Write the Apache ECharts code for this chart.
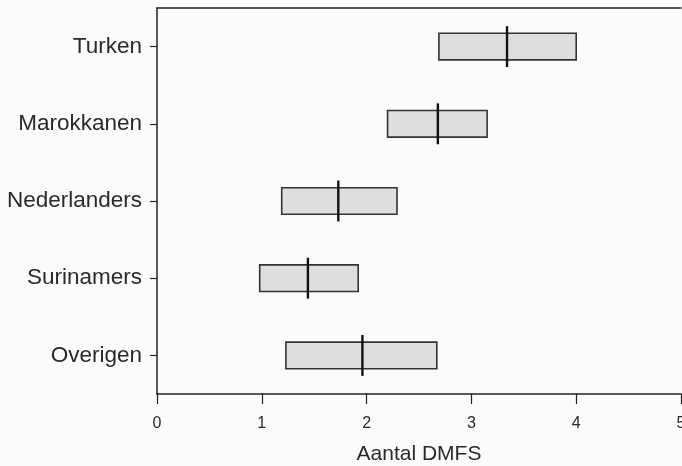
<!DOCTYPE html>
<html>
<head>
<meta charset="utf-8">
<script src="https://cdn.jsdelivr.net/npm/echarts@6/dist/echarts.min.js"></script>
<style>
html,body{margin:0;padding:0;background:#fbfbf9;}
#chart{width:682px;height:466px;}
</style>
</head>
<body>
<div id="chart"></div>
<script>
const categories = ['Turken', 'Marokkanen', 'Nederlanders', 'Surinamers', 'Overigen'];
const lowValues = [2.69, 2.20, 1.19, 0.98, 1.23];
const highValues = [4.00, 3.15, 2.29, 1.92, 2.67];
const medianValues = [3.34, 2.68, 1.73, 1.44, 1.96];
const xTicks = [0, 1, 2, 3, 4, 5];
const xAxisTitle = 'Aantal DMFS';

const seriesData = categories.map((c, i) => [i, lowValues[i], highValues[i], medianValues[i]]);

const chart = echarts.init(document.getElementById('chart'), null, {renderer: 'canvas'});
const font = 'Liberation Sans, Helvetica, Arial, sans-serif';

chart.setOption({
  backgroundColor: '#fbfbf9',
  animation: false,
  grid: {left: 157, right: 1, top: 8, bottom: 72, containLabel: false, outerBoundsMode: 'none'},
  xAxis: [{
    type: 'value',
    min: xTicks[0],
    max: xTicks[xTicks.length - 1],
    interval: 1,
    position: 'bottom',
    axisLine: {show: true, lineStyle: {color: '#222', width: 1.5}},
    axisTick: {show: true, inside: false, length: 10, lineStyle: {color: '#222', width: 1.2}},
    axisLabel: {show: true, margin: 22, fontSize: 16, color: '#2a2a2a', fontFamily: font,
      formatter: v => xTicks.includes(v) ? String(v) : ''},
    splitLine: {show: false},
    name: xAxisTitle,
    nameLocation: 'middle',
    nameGap: 50,
    nameTextStyle: {fontSize: 21, color: '#2a2a2a', fontFamily: font}
  }, {
    type: 'value',
    min: xTicks[0],
    max: xTicks[xTicks.length - 1],
    position: 'top',
    axisLine: {show: true, lineStyle: {color: '#222', width: 1.5}},
    axisTick: {show: false},
    axisLabel: {show: false},
    splitLine: {show: false}
  }],
  yAxis: {
    type: 'category',
    data: categories,
    inverse: true,
    axisLine: {show: true, lineStyle: {color: '#222', width: 1.5}},
    axisTick: {show: true, alignWithLabel: true, length: 7, lineStyle: {color: '#222', width: 1.2}},
    axisLabel: {margin: 15, fontSize: 22.5, color: '#2a2a2a', fontFamily: font},
    splitLine: {show: false}
  },
  series: [{
    type: 'custom',
    xAxisIndex: 0,
    data: seriesData,
    encode: {x: [1, 2, 3], y: 0},
    renderItem: function (params, api) {
      const idx = api.value(0);
      const lo = api.coord([api.value(1), idx]);
      const hi = api.coord([api.value(2), idx]);
      const med = api.coord([api.value(3), idx]);
      const band = api.size([0, 1])[1];
      const boxH = band * 0.345;
      const lineH = band * 0.53;
      return {
        type: 'group',
        children: [{
          type: 'rect',
          shape: {x: lo[0], y: lo[1] - boxH / 2, width: hi[0] - lo[0], height: boxH},
          style: {fill: '#dededc', stroke: '#333', lineWidth: 1.6}
        }, {
          type: 'line',
          shape: {x1: med[0], y1: med[1] - lineH / 2, x2: med[0], y2: med[1] + lineH / 2},
          style: {stroke: '#111', lineWidth: 2.4}
        }]
      };
    }
  }]
});
</script>
</body>
</html>
